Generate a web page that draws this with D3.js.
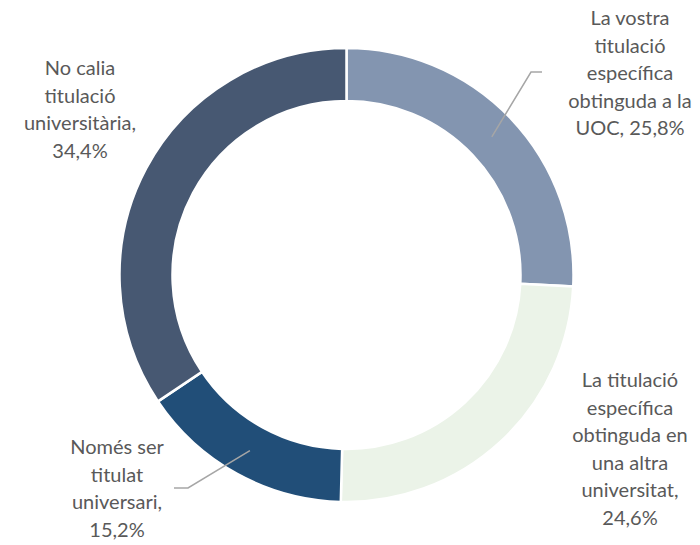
<!DOCTYPE html>
<html>
<head>
<meta charset="utf-8">
<script src="https://cdn.jsdelivr.net/npm/d3@7"></script>
<style>
  body { margin: 0; background: #fff; }
  text { font-family: Lato, "Open Sans", sans-serif; fill: #595959; }
</style>
</head>
<body>
<div id="viz"></div>
<script>
var width = 700,
  height = 545;

// data
var categories = [
  'La vostra titulació específica obtinguda a la UOC',
  'La titulació específica obtinguda en una altra universitat',
  'Només ser titulat universari',
  'No calia titulació universitària'
];
var values = [25.8, 24.6, 15.2, 34.4];
var labelLines = [
  ['La vostra', 'titulació', 'específica', 'obtinguda a la', 'UOC, 25,8%'],
  ['La titulació', 'específica', 'obtinguda en', 'una altra', 'universitat,', '24,6%'],
  ['Només ser', 'titulat', 'universari,', '15,2%'],
  ['No calia', 'titulació', 'universitària,', '34,4%']
];
var colors = ['#8395b0', '#ebf3e8', '#214e78', '#475872'];

// layout
var cx = 346.5, cy = 275,
  outerR = 227, innerR = 174,
  lineH = 27.6;

// where each label block sits (center x, first line y) and leader elbow
var labelPos = [
  { x: 630, y: 18, elbow: [531, 72], end: [542, 72] },
  { x: 630, y: 380, elbow: null },
  { x: 117, y: 447, elbow: [188, 488], end: [174, 488] },
  { x: 80, y: 68, elbow: null }
];

var svg = d3.select('#viz').append('svg')
  .attr('width', width)
  .attr('height', height);

var pie = d3.pie().sort(null).value(function (d) { return d; });
var arc = d3.arc().innerRadius(innerR).outerRadius(outerR);

var g = svg.append('g').attr('transform', 'translate(' + cx + ',' + cy + ')');

var arcs = pie(values);

g.selectAll('path')
  .data(arcs)
  .enter().append('path')
  .attr('d', arc)
  .attr('fill', function (d, i) { return colors[i]; })
  .attr('stroke', '#fff')
  .attr('stroke-width', 2.5);

// leader lines
arcs.forEach(function (d, i) {
  var p = labelPos[i];
  if (!p.elbow) return;
  var c = arc.centroid(d);
  svg.append('polyline')
    .attr('points', [[c[0] + cx, c[1] + cy], p.elbow, p.end].map(function (q) { return q.join(','); }).join(' '))
    .attr('fill', 'none')
    .attr('stroke', '#a6a6a6')
    .attr('stroke-width', 1.5);
});

// labels
labelLines.forEach(function (lines, i) {
  var p = labelPos[i];
  var t = svg.append('text')
    .attr('text-anchor', 'middle')
    .attr('font-size', 20);
  lines.forEach(function (s, k) {
    t.append('tspan')
      .attr('x', p.x)
      .attr('y', p.y + k * lineH)
      .attr('dy', '0.35em')
      .text(s);
  });
});
</script>
</body>
</html>
